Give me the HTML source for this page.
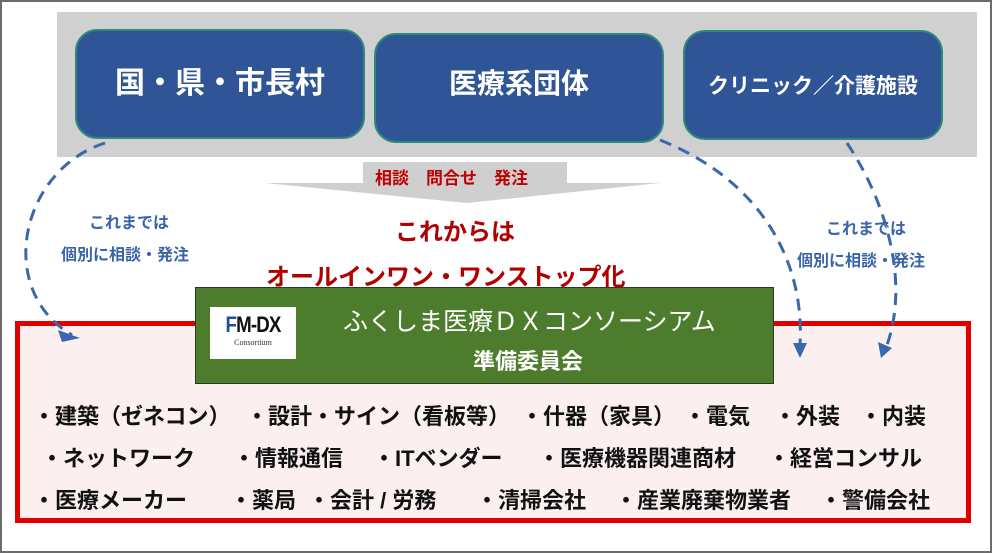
<!DOCTYPE html>
<html><head><meta charset="utf-8"><style>
body{margin:0;width:992px;height:553px;overflow:hidden;background:#fff;font-family:"Liberation Sans","Noto Sans CJK JP",sans-serif;}
.a{position:absolute;white-space:nowrap;}
.frame{position:absolute;left:0;top:0;width:988px;height:549px;border:2px solid #6b6b6b;}
.band{position:absolute;left:57px;top:12px;width:920px;height:145px;background:#d0d0d0;}
.box{position:absolute;background:#2f5597;border:2px solid #2e8a78;border-radius:22px;color:#fff;font-weight:bold;display:flex;align-items:center;justify-content:center;}
.red{position:absolute;left:15px;top:321px;width:946px;height:192px;border:5px solid #e00000;background:#fbeff0;}
.green{position:absolute;left:195px;top:287px;width:577px;height:95px;background:#4e7c2d;border:1px solid #2a3a20;}
.it{position:absolute;font-size:22px;font-weight:bold;color:#111;white-space:nowrap;}
.bl{color:#3a64a8;font-weight:bold;font-size:16px;}
</style></head><body>
<div class="frame"></div>
<div class="band"></div>
<div class="box" style="left:75px;top:29px;width:290px;height:110px;font-size:30px;padding-bottom:8px;box-sizing:border-box;">国・県・市長村</div>
<div class="box" style="left:374px;top:33px;width:290px;height:110px;font-size:28px;padding-bottom:12px;box-sizing:border-box;">医療系団体</div>
<div class="box" style="left:683px;top:30px;width:260px;height:110px;font-size:21px;box-sizing:border-box;">クリニック／介護施設</div>
<svg class="a" style="left:0;top:0" width="992" height="553">
<polygon points="363,162 567,162 567,183 660,183 467,203 265,183 363,183" fill="#cfcfcf"/>
</svg>
<div class="a" style="left:375px;top:164px;font-size:17px;font-weight:bold;color:#c00000;">相談　問合せ　発注</div>
<div class="a" style="left:395px;top:212px;font-size:24px;font-weight:bold;color:#b00000;">これからは</div>
<div class="a" style="left:266px;top:257px;font-size:24px;font-weight:bold;color:#b00000;">オールインワン・ワンストップ化</div>
<div class="a bl" style="left:89px;top:209px;">これまでは</div>
<div class="a bl" style="left:61px;top:241px;">個別に相談・発注</div>
<div class="a bl" style="left:826px;top:215px;">これまでは</div>
<div class="a bl" style="left:797px;top:247px;">個別に相談・発注</div>
<div class="red"></div>
<div class="green"></div>
<div class="a" style="left:210px;top:307px;width:86px;height:52px;background:#fff;text-align:center;">
<div style="font-family:'Liberation Sans',sans-serif;font-weight:bold;font-size:22px;color:#111;margin-top:5px;letter-spacing:-1px;transform:scaleX(0.85);"><span style="color:#1f4e9a">F</span>M-DX</div>
<div style="font-family:'Liberation Serif',serif;font-size:8px;color:#333;">Consortium</div></div>
<div class="a" style="left:343px;top:302px;font-size:25px;color:#fff;">ふくしま医療ＤＸコンソーシアム</div>
<div class="a" style="left:473px;top:344px;font-size:22px;font-weight:bold;color:#fff;">準備委員会</div>
<svg class="a" style="left:0;top:0" width="992" height="553" fill="none">
<g stroke="#3b67ac" stroke-width="3" stroke-dasharray="12,8">
<path d="M105,143 C20,170 -5,290 72,335"/>
<path d="M660,140 C760,180 805,260 800,345"/>
<path d="M847,143 C885,200 910,280 887,345"/>
</g>
<g fill="#3b67ac">
<polygon points="58,330 80,338 62,342"/>
<polygon points="793,343 807,343 800,358"/>
<polygon points="878,342 892,348 881,358"/>
</g>
</svg>
<div class="it" style="left:33px;top:399px;">・建築（ゼネコン）</div>
<div class="it" style="left:246px;top:399px;">・設計・サイン（看板等）</div>
<div class="it" style="left:521px;top:399px;">・什器（家具）</div>
<div class="it" style="left:684px;top:399px;">・電気</div>
<div class="it" style="left:774px;top:399px;">・外装</div>
<div class="it" style="left:860px;top:399px;">・内装</div>
<div class="it" style="left:41px;top:441px;">・ネットワーク</div>
<div class="it" style="left:233px;top:441px;">・情報通信</div>
<div class="it" style="left:373px;top:441px;">・ITベンダー</div>
<div class="it" style="left:538px;top:441px;">・医療機器関連商材</div>
<div class="it" style="left:768px;top:441px;">・経営コンサル</div>
<div class="it" style="left:33px;top:483px;">・医療メーカー</div>
<div class="it" style="left:230px;top:483px;">・薬局</div>
<div class="it" style="left:308px;top:483px;">・会計 / 労務</div>
<div class="it" style="left:476px;top:483px;">・清掃会社</div>
<div class="it" style="left:615px;top:483px;">・産業廃棄物業者</div>
<div class="it" style="left:820px;top:483px;">・警備会社</div>
</body></html>
